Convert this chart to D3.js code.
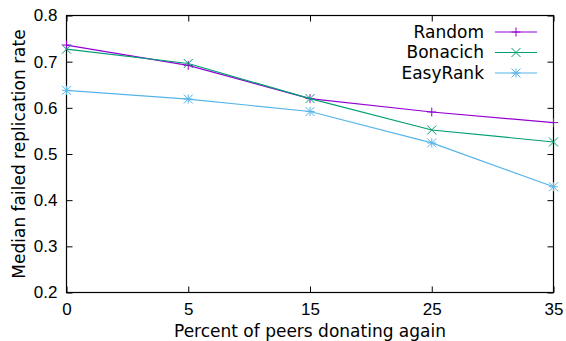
<!DOCTYPE html>
<html>
<head>
<meta charset="utf-8">
<script src="https://cdn.jsdelivr.net/npm/d3@7"></script>
<style>
  body { margin: 0; background: #fff; }
  svg { display: block; font-family: "DejaVu Sans", sans-serif; }
</style>
</head>
<body>
<svg id="chart"></svg>
<script>
const width = 566;
const height = 341;

// Data
const categories = ["0", "5", "15", "25", "35"];
const random = [0.736, 0.692, 0.620, 0.591, 0.568];
const bonacich = [0.727, 0.696, 0.620, 0.552, 0.526];
const easyRank = [0.638, 0.619, 0.592, 0.524, 0.429];
const yTicks = [0.2, 0.3, 0.4, 0.5, 0.6, 0.7, 0.8];

const series = [
  {name: "Random", values: random, color: "#9400d3", marker: "plus"},
  {name: "Bonacich", values: bonacich, color: "#009e73", marker: "cross"},
  {name: "EasyRank", values: easyRank, color: "#56b4e9", marker: "star"}
];

const margin = {top: 15.5, right: 12.5, bottom: 48.5, left: 66.5};
const fontSize = 17;

const svg = d3.select("#chart")
    .attr("width", width)
    .attr("height", height);

const x = d3.scalePoint()
    .domain(categories)
    .range([margin.left, width - margin.right])
    .padding(0);

const y = d3.scaleLinear()
    .domain([0.2, 0.8])
    .range([height - margin.bottom, margin.top]);

// Axes with inward ticks (gnuplot style)
const fmt = d3.format(".1f");

svg.append("g")
    .attr("transform", `translate(0,${height - margin.bottom})`)
    .call(d3.axisBottom(x).tickSizeInner(-6).tickSizeOuter(0).tickPadding(10))
    .call(g => g.select(".domain").remove())
    .call(g => g.selectAll("text").attr("font-size", fontSize).attr("fill", "#000"));

svg.append("g")
    .attr("transform", `translate(0,${margin.top})`)
    .call(d3.axisTop(x).tickSizeInner(-6).tickSizeOuter(0).tickFormat(""))
    .call(g => g.select(".domain").remove());

svg.append("g")
    .attr("transform", `translate(${margin.left},0)`)
    .call(d3.axisLeft(y).tickValues(yTicks).tickFormat(fmt).tickSizeInner(-6).tickSizeOuter(0).tickPadding(9))
    .call(g => g.select(".domain").remove())
    .call(g => g.selectAll("text").attr("font-size", fontSize).attr("fill", "#000"));

svg.append("g")
    .attr("transform", `translate(${width - margin.right},0)`)
    .call(d3.axisRight(y).tickValues(yTicks).tickFormat("").tickSizeInner(-6).tickSizeOuter(0))
    .call(g => g.select(".domain").remove());

svg.selectAll(".tick line").attr("stroke", "#000");

// Border
svg.append("rect")
    .attr("x", margin.left)
    .attr("y", margin.top)
    .attr("width", width - margin.left - margin.right)
    .attr("height", height - margin.top - margin.bottom)
    .attr("fill", "none")
    .attr("stroke", "#000")
    .attr("stroke-width", 1.2);

// Axis titles
svg.append("text")
    .attr("x", (margin.left + width - margin.right) / 2)
    .attr("y", 337)
    .attr("text-anchor", "middle")
    .attr("font-size", fontSize)
    .text("Percent of peers donating again");

svg.append("text")
    .attr("transform", `translate(25,${(margin.top + height - margin.bottom) / 2}) rotate(-90)`)
    .attr("text-anchor", "middle")
    .attr("font-size", fontSize)
    .text("Median failed replication rate");

// Marker drawing
function marker(g, type, cx, cy, color) {
  const s = 4.5;
  const segs = [];
  if (type === "plus" || type === "star") {
    segs.push([cx - s, cy, cx + s, cy], [cx, cy - s, cx, cy + s]);
  }
  if (type === "cross" || type === "star") {
    segs.push([cx - s, cy - s, cx + s, cy + s], [cx - s, cy + s, cx + s, cy - s]);
  }
  segs.forEach(d => g.append("line")
      .attr("x1", d[0]).attr("y1", d[1]).attr("x2", d[2]).attr("y2", d[3])
      .attr("stroke", color).attr("stroke-width", 1));
}

const line = d3.line()
    .x((d, i) => x(categories[i]))
    .y(d => y(d));

series.forEach(s => {
  svg.append("path")
      .datum(s.values)
      .attr("fill", "none")
      .attr("stroke", s.color)
      .attr("stroke-width", 1.2)
      .attr("d", line);
  const g = svg.append("g");
  s.values.forEach((v, i) => marker(g, s.marker, x(categories[i]), y(v), s.color));
});

// Legend
const legend = svg.append("g");
series.forEach((s, i) => {
  const ly = 32 + i * 20.5;
  legend.append("text")
      .attr("x", 484)
      .attr("y", ly)
      .attr("dy", "0.35em")
      .attr("text-anchor", "end")
      .attr("font-size", fontSize)
      .text(s.name);
  legend.append("line")
      .attr("x1", 495).attr("x2", 537)
      .attr("y1", ly).attr("y2", ly)
      .attr("stroke", s.color)
      .attr("stroke-width", 1.2);
  marker(legend, s.marker, 516, ly, s.color);
});
</script>
</body>
</html>
